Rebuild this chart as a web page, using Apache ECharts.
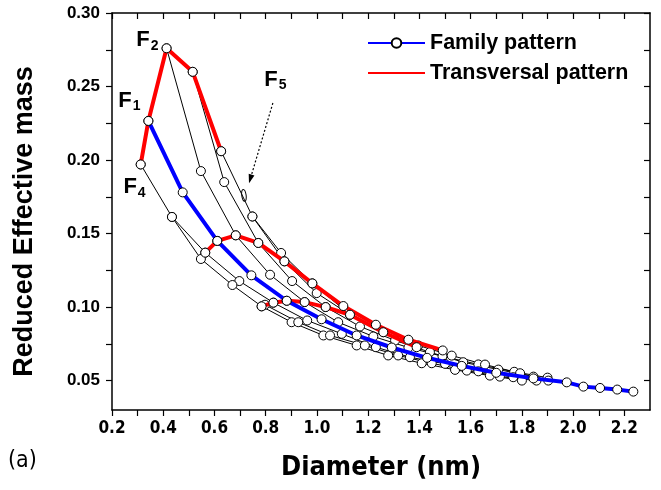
<!DOCTYPE html>
<html><head><meta charset="utf-8">
<script src="https://cdn.jsdelivr.net/npm/echarts@6/dist/echarts.min.js"></script>
<style>html,body{margin:0;padding:0;background:#fff}#c{width:661px;height:490px}</style>
</head><body><div id="c"></div>
<script>
// ---- data (diameter nm, reduced effective mass) ----
const xLabelValues = [0.2,0.4,0.6,0.8,1.0,1.2,1.4,1.6,1.8,2.0,2.2];
const xTickValues = [0.2,0.3,0.4,0.5,0.6,0.7,0.8,0.9,1.0,1.1,1.2,1.3,1.4,1.5,1.6,1.7,1.8,1.9,2.0,2.1,2.2];
const yLabelValues = [0.05,0.10,0.15,0.20,0.25,0.30];
const yTickValues = [0.05,0.075,0.10,0.125,0.15,0.175,0.20,0.225,0.25,0.275,0.30];

const familyPattern = [[0.342,0.2266],[0.476,0.178],[0.611,0.145],[0.744,0.1216],[0.882,0.1043],[1.018,0.0917],[1.155,0.0807],[1.292,0.0725],[1.43,0.0655],[1.565,0.0600],[1.70,0.0553],[1.845,0.0515],[1.975,0.0488],[2.04,0.0459],[2.105,0.0450],[2.172,0.0439],[2.235,0.0425]];
const transA = [[0.312,0.197],[0.342,0.2266],[0.413,0.276],[0.515,0.260],[0.626,0.206]];
const transB = [[0.564,0.137],[0.611,0.145],[0.683,0.1488],[0.771,0.1436],[0.873,0.1311],[0.982,0.1161],[1.103,0.1007],[1.230,0.0880],[1.357,0.0778],[1.491,0.0705]];
const transC = [[0.784,0.1005],[0.830,0.103],[0.882,0.1043],[0.952,0.1034],[1.034,0.100],[1.129,0.0948],[1.259,0.0829],[1.389,0.0727]];
const famK1 = [[0.413,0.276],[0.547,0.1925],[0.683,0.1488],[0.817,0.122],[0.952,0.1034],[1.083,0.0897],[1.22,0.0800],[1.357,0.0725],[1.49,0.0665],[1.63,0.0610],[1.77,0.0560],[1.90,0.0520]];
const famK2 = [[0.515,0.260],[0.638,0.185],[0.771,0.1436],[0.903,0.1177],[1.034,0.100],[1.168,0.0868],[1.305,0.0773],[1.441,0.0693],[1.571,0.0625],[1.708,0.0575],[1.845,0.0527]];
const famK3 = [[0.626,0.206],[0.748,0.1616],[0.860,0.1368],[0.982,0.1161],[1.129,0.0948],[1.259,0.0829],[1.396,0.0739],[1.526,0.0670],[1.656,0.0609],[1.793,0.0550],[1.903,0.0500]];
const famK4 = [[0.748,0.1616],[0.873,0.1311],[0.999,0.1095],[1.129,0.0948]];
const famF4 = [[0.312,0.197],[0.434,0.1613],[0.564,0.137],[0.697,0.1177],[0.830,0.103],[0.962,0.0909],[1.097,0.0818],[1.230,0.0727],[1.363,0.0659],[1.50,0.0614],[1.63,0.0563],[1.766,0.0523]];
const famL2 = [[0.434,0.1613],[0.547,0.1327],[0.670,0.115],[0.784,0.1005],[0.901,0.0897],[1.025,0.0807],[1.155,0.0739],[1.278,0.0671],[1.409,0.0618],[1.539,0.0573],[1.675,0.0534],[1.80,0.0500]];
const famL3 = [[0.797,0.1016],[0.927,0.0897],[1.051,0.0807],[1.187,0.0739],[1.317,0.0671],[1.448,0.0618],[1.585,0.0568],[1.714,0.0527],[1.857,0.0500]];

const labelF = [
  {name:'F', sub:'2', at:[0.338,0.2815]},
  {name:'F', sub:'1', at:[0.268,0.2405]},
  {name:'F', sub:'4', at:[0.288,0.1815]},
  {name:'F', sub:'5', at:[0.838,0.2545]}
];

const narrow = "'Liberation Sans Narrow','DejaVu Sans Condensed','Liberation Sans',sans-serif";
const chart = echarts.init(document.getElementById('c'));
const mk = {symbol:'circle', symbolSize:9, itemStyle:{color:'#fff', borderColor:'#000', borderWidth:1}};
function thin(data){
  return Object.assign({type:'line', name:'fam', data:data, lineStyle:{color:'#000', width:1}, z:2, animation:false}, mk);
}
function thick(name, color, data){
  return Object.assign({type:'line', name:name, data:data, lineStyle:{color:color, width:4}, z:3, animation:false}, mk);
}
const axisLine = {show:true, lineStyle:{color:'#000', width:1.5}};
const fmt2 = v => v.toFixed(2);
const fmt1 = v => v.toFixed(1);

chart.setOption({
  animation:false,
  grid:{left:112, right:11, top:13, bottom:80},
  legend:{
    data:[{name:'Family pattern'},{name:'Transversal pattern', itemStyle:{opacity:0}}],
    orient:'vertical', left:362, top:27, itemWidth:57, itemHeight:12, itemGap:8,
    textStyle:{fontFamily:'Liberation Sans', fontWeight:'bold', fontSize:21.5, color:'#000'}
  },
  xAxis:[{
    type:'value', min:0.2, max:2.3, position:'bottom',
    axisLine:axisLine, splitLine:{show:false},
    axisTick:{show:true, customValues:xTickValues, length:6, lineStyle:{color:'#000', width:1.2}},
    axisLabel:{customValues:xLabelValues, formatter:fmt1, color:'#000', fontFamily:narrow, fontWeight:'bold', fontSize:17, margin:10},
    name:'Diameter (nm)', nameLocation:'middle', nameGap:44,
    nameTextStyle:{fontFamily:narrow, fontWeight:'bold', fontSize:27, color:'#000'}
  },{
    type:'value', min:0.2, max:2.3, position:'top',
    axisLine:axisLine, splitLine:{show:false},
    axisTick:{show:true, inside:true, customValues:xTickValues, length:6, lineStyle:{color:'#000', width:1.2}},
    axisLabel:{show:false}
  }],
  yAxis:[{
    type:'value', min:0.03, max:0.30, position:'left',
    axisLine:axisLine, splitLine:{show:false},
    axisTick:{show:true, customValues:yTickValues, length:6, lineStyle:{color:'#000', width:1.2}},
    axisLabel:{customValues:yLabelValues, formatter:fmt2, color:'#000', fontFamily:'Liberation Sans', fontWeight:'bold', fontSize:17, margin:12},
    name:'Reduced Effective mass', nameLocation:'middle', nameGap:74,
    nameTextStyle:{fontFamily:'Liberation Sans', fontWeight:'bold', fontSize:27, color:'#000', padding:[0,20,0,0]}
  },{
    type:'value', min:0.03, max:0.30, position:'right',
    axisLine:axisLine, splitLine:{show:false},
    axisTick:{show:true, inside:true, customValues:yTickValues, length:6, lineStyle:{color:'#000', width:1.2}},
    axisLabel:{show:false}
  }],
  series:[
    thin(famK1), thin(famK2), thin(famK3), thin(famK4), thin(famF4), thin(famL2), thin(famL3),
    thick('Transversal pattern', '#ff0000', transA),
    thick('Transversal pattern', '#ff0000', transB),
    thick('Transversal pattern', '#ff0000', transC),
    thick('Family pattern', '#0000ff', familyPattern)
  ]
});

// annotations positioned through the axes
const g = [];
labelF.forEach(f => {
  const p = chart.convertToPixel({xAxisIndex:0, yAxisIndex:0}, f.at);
  g.push({type:'text', x:p[0], y:p[1], style:{
    text:'{a|'+f.name+'}{b|'+f.sub+'}', rich:{
      a:{fontFamily:'Liberation Sans', fontWeight:'bold', fontSize:22, fill:'#000'},
      b:{fontFamily:'Liberation Sans', fontWeight:'bold', fontSize:14, fill:'#000', padding:[11,0,0,1]}
    }, textVerticalAlign:'middle', textAlign:'center'}});
});
const a0 = chart.convertToPixel({xAxisIndex:0, yAxisIndex:0}, [0.828,0.2388]);
const a1 = chart.convertToPixel({xAxisIndex:0, yAxisIndex:0}, [0.737,0.1855]);
g.push({type:'line', shape:{x1:a0[0], y1:a0[1], x2:a1[0], y2:a1[1]}, style:{stroke:'#000', lineWidth:1.2, lineDash:[2,2]}});
const ang = Math.atan2(a1[1]-a0[1], a1[0]-a0[0]);
const L=7, W=3;
g.push({type:'polygon', shape:{points:[
  [a1[0]+Math.cos(ang)*2, a1[1]+Math.sin(ang)*2],
  [a1[0]-Math.cos(ang)*L+Math.sin(ang)*W, a1[1]-Math.sin(ang)*L-Math.cos(ang)*W],
  [a1[0]-Math.cos(ang)*L-Math.sin(ang)*W, a1[1]-Math.sin(ang)*L+Math.cos(ang)*W]
]}, style:{fill:'#000'}});
const e = chart.convertToPixel({xAxisIndex:0, yAxisIndex:0}, [0.715,0.176]);
g.push({type:'ellipse', shape:{cx:0, cy:0, rx:2.2, ry:6}, x:e[0], y:e[1], rotation:0.15, style:{fill:'none', stroke:'#000', lineWidth:1}, z:10});
g.push({type:'text', left:8, top:450, style:{text:'(a)', fontFamily:narrow, fontSize:23, fill:'#000'}});
chart.setOption({graphic:g});
</script>
</body></html>
